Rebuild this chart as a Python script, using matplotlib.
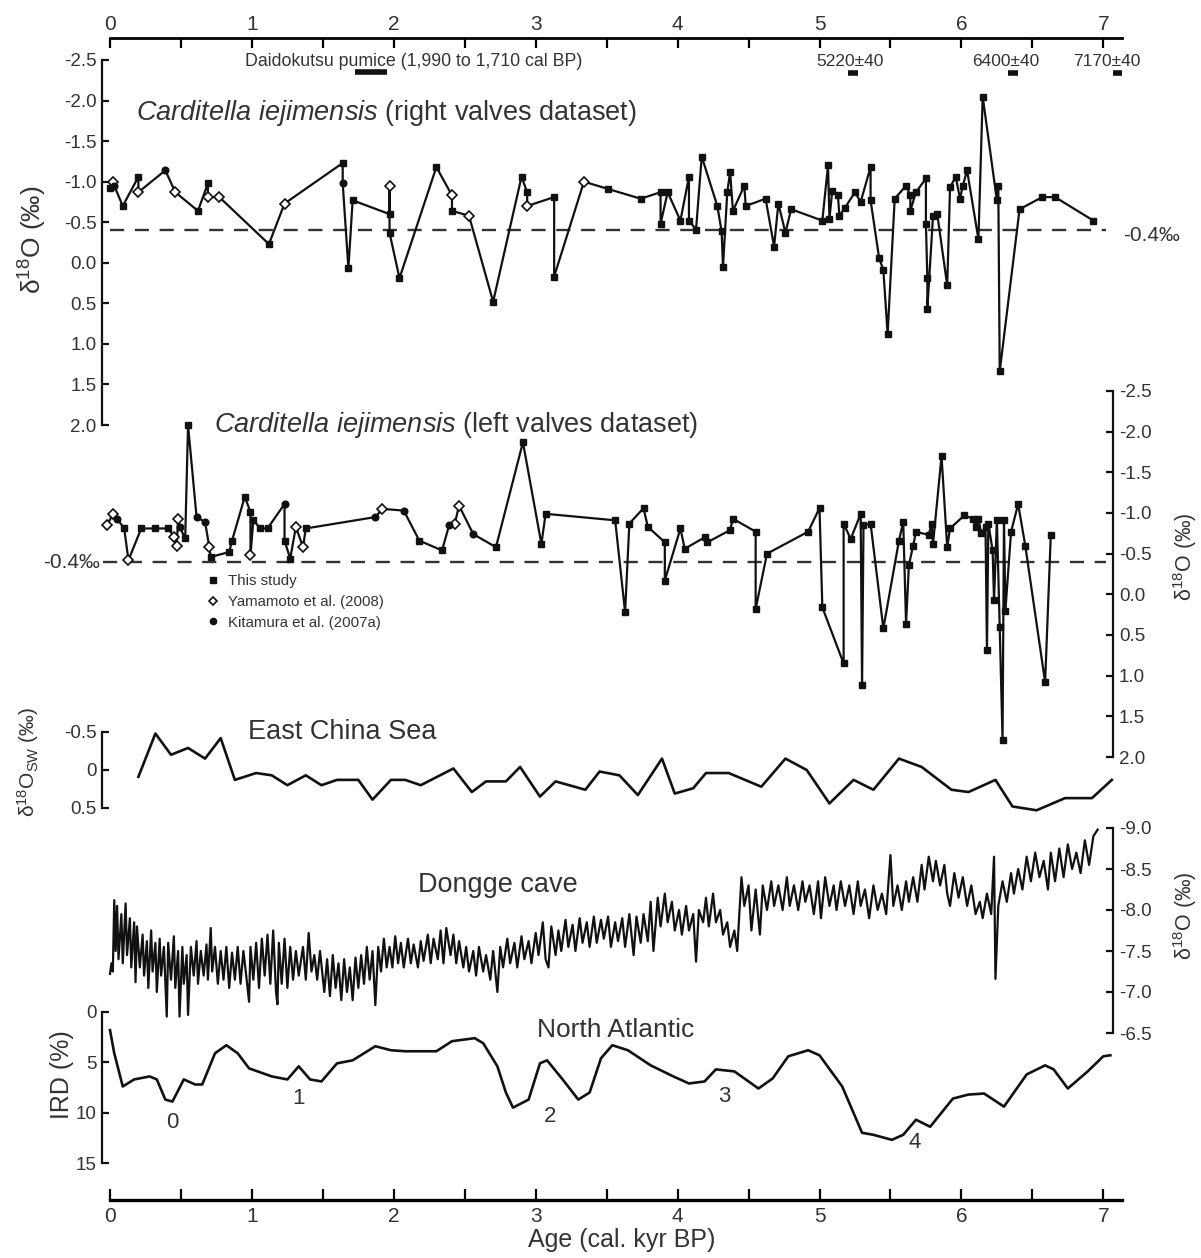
import matplotlib
matplotlib.use("Agg")
import matplotlib.pyplot as plt
from matplotlib.lines import Line2D
from matplotlib import transforms

plt.rcParams['font.family'] = ['Liberation Sans', 'DejaVu Sans']
plt.rcParams['axes.unicode_minus'] = False
plt.rcParams['mathtext.fontset'] = 'custom'
plt.rcParams['mathtext.rm'] = 'Liberation Sans'
plt.rcParams['mathtext.it'] = 'Liberation Sans:italic'
plt.rcParams['mathtext.default'] = 'regular'

# --- data ---
# right valves: age (cal kyr BP), d18O (permil), source (T=this study, Y=Yamamoto, K=Kitamura)
rv_age = [0.00, 0.02, 0.03, 0.09, 0.20, 0.20, 0.39, 0.46, 0.62, 0.69, 0.69, 0.77, 1.12, 1.23,
          1.64, 1.64, 1.68, 1.71, 1.97, 1.97, 1.97, 2.04, 2.30, 2.41, 2.41, 2.53, 2.70, 2.90,
          2.94, 2.94, 3.13, 3.13, 3.34, 3.51, 3.74, 3.88, 3.88, 3.93, 4.02, 4.08, 4.08, 4.13,
          4.17, 4.28, 4.31, 4.32, 4.35, 4.37, 4.39, 4.47, 4.48, 4.62, 4.68, 4.71, 4.76, 4.80,
          5.02, 5.06, 5.07, 5.09, 5.13, 5.14, 5.18, 5.25, 5.29, 5.36, 5.36, 5.42, 5.45, 5.48,
          5.53, 5.61, 5.64, 5.64, 5.68, 5.75, 5.75, 5.76, 5.76, 5.80, 5.83, 5.90, 5.92, 5.96,
          5.99, 6.01, 6.04, 6.12, 6.15, 6.25, 6.26, 6.27, 6.41, 6.57, 6.66, 6.93]
rv_d18o = [-0.92, -1.00, -0.95, -0.70, -1.06, -0.87, -1.14, -0.87, -0.64, -0.98, -0.81, -0.81, -0.23, -0.73,
           -1.23, -0.98, 0.07, -0.77, -0.60, -0.95, -0.37, 0.19, -1.18, -0.83, -0.64, -0.58, 0.48, -1.06,
           -0.87, -0.70, -0.81, 0.17, -1.00, -0.91, -0.79, -0.87, -0.48, -0.87, -0.52, -1.06, -0.52, -0.41,
           -1.31, -0.70, -0.39, 0.05, -0.87, -1.12, -0.64, -0.95, -0.70, -0.79, -0.20, -0.73, -0.37, -0.66,
           -0.52, -1.20, -0.54, -0.89, -0.83, -0.58, -0.68, -0.87, -0.75, -1.18, -0.77, -0.06, 0.09, 0.88,
           -0.79, -0.95, -0.83, -0.64, -0.87, -1.04, -0.48, 0.19, 0.57, -0.58, -0.60, 0.28, -0.93, -1.06,
           -0.79, -0.95, -1.14, -0.29, -2.05, -0.77, -0.95, 1.34, -0.66, -0.81, -0.81, -0.52]
rv_src = list("TYKTTYKYTTYYTYTKTTTYTTTYTYTTTYTTY") + ["T"] * 63

# left valves
lv_age = [-0.02, 0.02, 0.05, 0.10, 0.13, 0.22, 0.32, 0.41, 0.45, 0.47, 0.48, 0.49, 0.53, 0.55,
          0.61, 0.67, 0.70, 0.71, 0.84, 0.86, 0.95, 0.99, 0.99, 1.01, 1.06, 1.11, 1.23, 1.23,
          1.27, 1.31, 1.36, 1.38, 1.87, 1.92, 2.07, 2.18, 2.34, 2.39, 2.43, 2.46, 2.56, 2.72,
          2.91, 3.04, 3.07, 3.56, 3.63, 3.66, 3.76, 3.79, 3.91, 3.91, 4.02, 4.05, 4.19, 4.21,
          4.37, 4.39, 4.55, 4.55, 4.63, 4.92, 5.00, 5.02, 5.17, 5.17, 5.22, 5.29, 5.30, 5.31,
          5.36, 5.45, 5.56, 5.59, 5.61, 5.63, 5.66, 5.68, 5.77, 5.79, 5.80, 5.86, 5.90, 5.92,
          6.02, 6.08, 6.10, 6.12, 6.14, 6.17, 6.18, 6.19, 6.22, 6.23, 6.25, 6.27, 6.29, 6.30,
          6.31, 6.35, 6.40, 6.45, 6.59, 6.63]
lv_d18o = [-0.85, -0.99, -0.93, -0.81, -0.42, -0.81, -0.81, -0.81, -0.71, -0.60, -0.93, -0.83, -0.69, -2.08,
           -0.95, -0.89, -0.58, -0.46, -0.52, -0.66, -1.20, -1.01, -0.48, -0.91, -0.81, -0.81, -1.11, -0.66,
           -0.44, -0.83, -0.58, -0.81, -0.95, -1.05, -1.03, -0.66, -0.54, -0.85, -0.87, -1.09, -0.74, -0.58,
           -1.87, -0.62, -0.99, -0.91, 0.22, -0.87, -1.06, -0.83, -0.64, -0.17, -0.81, -0.56, -0.70, -0.64,
           -0.79, -0.93, -0.77, 0.18, -0.50, -0.77, -1.06, 0.16, 0.85, -0.87, -0.68, -0.99, 1.12, -0.85,
           -0.87, 0.42, -0.66, -0.89, 0.36, -0.36, -0.60, -0.77, -0.73, -0.87, -0.62, -1.70, -0.58, -0.81,
           -0.97, -0.93, -0.83, -0.93, -0.75, -0.83, 0.69, -0.87, -0.54, 0.07, -0.91, 0.40, 1.79, -0.91,
           0.20, -0.77, -1.11, -0.60, 1.08, -0.73]
lv_src = list("YYKTYTTTYYYKTTKKYTTTTTYTTTKTTYYTKYKTTKYYKT") + ["T"] * 62

# East China Sea d18Osw
ecs_age = [0.20, 0.32, 0.43, 0.55, 0.67, 0.78, 0.88, 1.03, 1.14, 1.25, 1.38, 1.49, 1.60, 1.75,
           1.85, 1.98, 2.08, 2.19, 2.42, 2.55, 2.65, 2.79, 2.89, 3.03, 3.14, 3.35, 3.45, 3.59,
           3.72, 3.89, 3.98, 4.11, 4.20, 4.36, 4.59, 4.76, 4.91, 5.07, 5.24, 5.38, 5.56, 5.72,
           5.93, 6.05, 6.24, 6.36, 6.53, 6.73, 6.92, 7.06]
ecs_d18osw = [0.09, -0.48, -0.20, -0.29, -0.15, -0.42, 0.13, 0.04, 0.07, 0.20, 0.07, 0.20, 0.13, 0.13,
              0.39, 0.13, 0.13, 0.20, -0.02, 0.29, 0.15, 0.15, -0.04, 0.35, 0.15, 0.26, 0.02, 0.07,
              0.33, -0.15, 0.31, 0.24, 0.04, 0.04, 0.22, -0.15, 0.00, 0.44, 0.13, 0.26, -0.15, -0.04,
              0.26, 0.29, 0.13, 0.48, 0.53, 0.37, 0.37, 0.13]

# Dongge cave speleothem d18O
dg_age = [0.00, 0.01, 0.02, 0.03, 0.04, 0.05, 0.06, 0.08, 0.09, 0.11, 0.12, 0.14, 0.15, 0.17, 0.18,
          0.19, 0.21, 0.23, 0.24, 0.26, 0.27, 0.29, 0.30, 0.32, 0.33, 0.35, 0.36, 0.38, 0.40, 0.41,
          0.43, 0.45, 0.46, 0.48, 0.49, 0.51, 0.52, 0.54, 0.55, 0.57, 0.59, 0.61, 0.62, 0.64, 0.66,
          0.68, 0.69, 0.71, 0.72, 0.74, 0.76, 0.78, 0.80, 0.82, 0.84, 0.86, 0.88, 0.90, 0.92, 0.94,
          0.96, 0.98, 0.99, 1.01, 1.03, 1.05, 1.07, 1.09, 1.11, 1.13, 1.15, 1.17, 1.18, 1.19, 1.21,
          1.23, 1.25, 1.27, 1.29, 1.31, 1.33, 1.36, 1.38, 1.40, 1.42, 1.44, 1.46, 1.48, 1.51, 1.53,
          1.55, 1.57, 1.59, 1.61, 1.63, 1.65, 1.67, 1.69, 1.71, 1.73, 1.75, 1.77, 1.79, 1.81, 1.83,
          1.85, 1.87, 1.89, 1.91, 1.93, 1.95, 1.97, 1.99, 2.01, 2.03, 2.05, 2.07, 2.10, 2.12, 2.14,
          2.17, 2.19, 2.21, 2.24, 2.26, 2.28, 2.31, 2.33, 2.35, 2.37, 2.40, 2.42, 2.44, 2.46, 2.49,
          2.51, 2.53, 2.56, 2.58, 2.60, 2.63, 2.65, 2.68, 2.70, 2.73, 2.75, 2.77, 2.80, 2.82, 2.85,
          2.87, 2.90, 2.92, 2.95, 2.97, 3.00, 3.02, 3.05, 3.07, 3.09, 3.11, 3.14, 3.16, 3.18, 3.21,
          3.23, 3.26, 3.28, 3.31, 3.33, 3.36, 3.38, 3.41, 3.43, 3.46, 3.48, 3.51, 3.53, 3.56, 3.58,
          3.61, 3.63, 3.66, 3.69, 3.71, 3.74, 3.76, 3.79, 3.81, 3.83, 3.86, 3.88, 3.91, 3.93, 3.96,
          3.98, 4.01, 4.03, 4.06, 4.08, 4.11, 4.13, 4.15, 4.18, 4.20, 4.22, 4.25, 4.27, 4.30, 4.32,
          4.35, 4.37, 4.40, 4.42, 4.45, 4.47, 4.50, 4.52, 4.55, 4.58, 4.60, 4.63, 4.66, 4.68, 4.71,
          4.74, 4.77, 4.79, 4.82, 4.85, 4.88, 4.90, 4.93, 4.96, 4.99, 5.01, 5.04, 5.07, 5.10, 5.12,
          5.15, 5.18, 5.21, 5.24, 5.27, 5.29, 5.32, 5.35, 5.38, 5.41, 5.44, 5.47, 5.50, 5.52, 5.55,
          5.58, 5.61, 5.63, 5.66, 5.69, 5.72, 5.74, 5.77, 5.80, 5.82, 5.85, 5.88, 5.90, 5.92, 5.95,
          5.98, 6.01, 6.04, 6.07, 6.10, 6.13, 6.15, 6.18, 6.21, 6.23, 6.24, 6.26, 6.29, 6.32, 6.35,
          6.37, 6.40, 6.43, 6.46, 6.49, 6.52, 6.55, 6.58, 6.61, 6.63, 6.66, 6.69, 6.72, 6.75, 6.78,
          6.81, 6.84, 6.87, 6.90, 6.93, 6.96]
dg_d18o = [-7.22, -7.35, -7.25, -8.12, -7.50, -8.05, -7.40, -7.95, -7.35, -8.08, -7.45, -7.90, -7.30, -7.85, -7.12,
           -7.80, -7.30, -7.70, -7.20, -7.62, -7.05, -7.75, -7.25, -7.60, -7.00, -7.65, -7.20, -7.55, -6.70, -7.60,
           -7.15, -7.68, -7.05, -7.50, -6.70, -7.55, -7.10, -7.45, -6.72, -7.55, -7.20, -7.62, -7.10, -7.50, -7.20,
           -7.58, -7.15, -7.78, -7.25, -7.55, -7.10, -7.50, -7.15, -7.55, -7.05, -7.48, -7.15, -7.55, -7.10, -7.50,
           -7.20, -6.88, -7.55, -7.15, -7.60, -7.05, -7.65, -7.20, -7.70, -7.10, -7.75, -7.00, -6.85, -7.60, -7.10,
           -7.65, -7.05, -7.55, -7.15, -7.50, -7.20, -7.55, -7.15, -7.72, -7.25, -7.45, -7.15, -7.50, -7.00, -7.40,
           -6.95, -7.45, -7.05, -7.35, -6.90, -7.40, -7.00, -7.30, -6.90, -7.42, -7.05, -7.45, -7.10, -7.55, -7.15,
           -7.50, -6.84, -7.55, -7.25, -7.65, -7.30, -7.55, -7.30, -7.68, -7.35, -7.60, -7.30, -7.65, -7.35, -7.58,
           -7.30, -7.62, -7.38, -7.70, -7.35, -7.65, -7.40, -7.75, -7.35, -7.78, -7.45, -7.70, -7.35, -7.62, -7.30,
           -7.55, -7.25, -7.50, -7.20, -7.55, -7.25, -7.45, -7.15, -7.50, -7.00, -7.55, -7.30, -7.65, -7.35, -7.60,
           -7.30, -7.68, -7.40, -7.62, -7.35, -7.72, -7.45, -7.85, -7.40, -7.30, -7.80, -7.45, -7.75, -7.50, -7.88,
           -7.55, -7.82, -7.50, -7.90, -7.60, -7.85, -7.55, -7.92, -7.60, -7.88, -7.65, -7.92, -7.55, -7.85, -7.62,
           -7.90, -7.55, -7.95, -7.45, -7.92, -7.60, -7.95, -7.62, -8.10, -7.50, -8.15, -7.80, -8.20, -7.85, -8.10,
           -7.75, -8.00, -7.70, -8.05, -7.75, -7.95, -7.37, -8.00, -7.85, -8.15, -7.80, -8.20, -7.85, -8.00, -7.70,
           -7.85, -7.55, -7.75, -7.50, -8.40, -8.05, -8.30, -7.75, -8.25, -7.70, -8.30, -8.00, -8.35, -8.05, -8.30,
           -8.00, -8.40, -8.05, -8.30, -8.00, -8.35, -8.10, -8.30, -7.95, -8.35, -7.90, -8.40, -8.05, -8.30, -8.00,
           -8.35, -8.05, -8.30, -7.95, -8.35, -8.05, -8.25, -7.90, -8.30, -8.00, -8.20, -7.95, -8.67, -8.05, -8.30,
           -8.00, -8.35, -8.10, -8.40, -8.10, -8.55, -8.25, -8.65, -8.35, -8.60, -8.30, -8.55, -8.20, -8.05, -8.45,
           -8.15, -8.40, -8.05, -8.30, -7.95, -8.10, -7.90, -8.20, -7.95, -8.65, -7.16, -8.05, -8.35, -8.10, -8.45,
           -8.20, -8.50, -8.25, -8.65, -8.35, -8.70, -8.40, -8.60, -8.25, -8.70, -8.35, -8.75, -8.40, -8.80, -8.50,
           -8.70, -8.45, -8.85, -8.55, -8.90, -8.98]

# North Atlantic ice-rafted debris
ird_age = [0.00, 0.03, 0.09, 0.17, 0.28, 0.33, 0.39, 0.44, 0.52, 0.60, 0.65, 0.74, 0.82, 0.90,
           0.98, 1.14, 1.25, 1.33, 1.41, 1.49, 1.60, 1.71, 1.87, 1.98, 2.08, 2.30, 2.41, 2.57,
           2.63, 2.73, 2.79, 2.84, 2.95, 3.03, 3.08, 3.19, 3.30, 3.38, 3.46, 3.54, 3.65, 3.81,
           3.97, 4.08, 4.19, 4.27, 4.40, 4.57, 4.67, 4.78, 4.92, 5.00, 5.16, 5.30, 5.38, 5.51,
           5.59, 5.68, 5.78, 5.94, 6.05, 6.16, 6.30, 6.46, 6.59, 6.65, 6.75, 6.89, 7.00, 7.05]
ird_pct = [1.8, 4.1, 7.4, 6.7, 6.4, 6.7, 8.7, 8.9, 6.7, 7.2, 7.2, 4.1, 3.3, 4.1,
           5.6, 6.4, 6.7, 5.4, 6.7, 6.9, 5.1, 4.8, 3.4, 3.8, 3.9, 3.9, 2.9, 2.6,
           3.1, 5.4, 8.0, 9.5, 8.7, 5.1, 4.8, 6.7, 8.7, 8.0, 4.6, 3.3, 3.8, 5.3,
           6.4, 7.1, 6.9, 5.7, 5.9, 7.6, 6.6, 4.4, 3.8, 4.3, 7.4, 12.0, 12.2, 12.7,
           12.2, 10.7, 11.4, 8.6, 8.2, 8.1, 9.4, 6.2, 5.3, 5.7, 7.6, 5.9, 4.4, 4.3]
bond_events = ["0", "1", "2", "3", "4"]

W, H = 1201, 1258
fig = plt.figure(figsize=(W / 100, H / 100), dpi=100)

X0, KYR = 110, 141.9      # pixel of age 0 and pixels per kyr
L, R = 102, 1125
XLIM = ((L - X0) / KYR, (R - X0) / KYR)
RSPINE = 7.07
INK = '#111111'
GREY = '#333333'


def add_ax(top, bottom):
    ax = fig.add_axes([L / W, 1 - bottom / H, (R - L) / W, (bottom - top) / H])
    ax.set_xlim(*XLIM)
    ax.patch.set_visible(False)
    for s in ax.spines.values():
        s.set_visible(False)
    ax.tick_params(axis='x', which='both', bottom=False, top=False, labelbottom=False, labeltop=False)
    ax.tick_params(axis='y', which='both', left=False, right=False, labelleft=False, labelright=False)
    return ax


def y_axis(ax, ticks, labels, side='left', size=13.5):
    sp = ax.spines[side]
    sp.set_visible(True)
    sp.set_linewidth(1.6)
    sp.set_color(INK)
    if side == 'right':
        sp.set_position(('data', RSPINE))
        ax.yaxis.set_ticks_position('right')
    ax.set_yticks(ticks)
    ax.set_yticklabels(labels)
    kw = {side: True, 'label' + side: True}
    ax.tick_params(axis='y', direction='in', length=5, width=1.6, color=INK,
                   labelsize=size, pad=4, labelcolor=GREY, **kw)


def txt(x, y, s, **kw):
    kw.setdefault('va', 'center')
    kw.setdefault('color', GREY)
    fig.text(x / W, 1 - y / H, s, **kw)


def shells(ax, age, val, src):
    ax.plot(age, val, color=INK, lw=1.6, zorder=2, clip_on=False)
    styles = {'T': dict(marker='s', ms=4.8, mfc=INK, mec=INK),
              'Y': dict(marker='D', ms=4.8, mfc='white', mec=INK, mew=1.2),
              'K': dict(marker='o', ms=4.8, mfc=INK, mec=INK)}
    for code, st in styles.items():
        xs = [a for a, c in zip(age, src) if c == code]
        ys = [v for v, c in zip(val, src) if c == code]
        ax.plot(xs, ys, ls='none', zorder=3, clip_on=False, **st)


# top age scale
axt = add_ax(38, 60)
axt.spines['top'].set_visible(True)
axt.spines['top'].set_linewidth(2.0)
axt.spines['top'].set_bounds(0, 7.13)
axt.set_xticks(range(8))
axt.set_xticks([0.5 + i for i in range(7)], minor=True)
axt.tick_params(axis='x', which='both', top=True, labeltop=True, direction='in',
                length=7, width=1.6, labelsize=15, labelcolor=GREY, pad=3)
axt.tick_params(axis='x', which='minor', labeltop=False)
tr = transforms.blended_transform_factory(axt.transData, fig.transFigure)
for a0, a1, yy in [(1.73, 1.95, 72), (5.20, 5.27, 73), (6.33, 6.40, 73), (7.07, 7.13, 73)]:
    axt.plot([a0, a1], [1 - yy / H] * 2, color=INK, lw=4, transform=tr, clip_on=False,
             solid_capstyle='butt')
txt(245, 62, 'Daidokutsu pumice (1,990 to 1,710 cal BP)', size=12.8)
txt(816, 62, '5220±40', size=12.5)
txt(972, 62, '6400±40', size=12.5)
txt(1073, 62, '7170±40', size=12.5)

# right valves
ax1 = add_ax(60, 425)
ax1.set_ylim(2.0, -2.5)
ticks = [-2.5, -2.0, -1.5, -1.0, -0.5, 0.0, 0.5, 1.0, 1.5, 2.0]
y_axis(ax1, ticks, ['%.1f' % t for t in ticks])
ax1.plot([0, 7.02], [-0.4, -0.4], color=GREY, lw=1.7, ls=(0, (6, 4.5)))
shells(ax1, rv_age, rv_d18o, rv_src)
txt(136, 113, r'$\mathit{Carditella\ iejimensis}$ (right valves dataset)', size=19.5)
txt(1123, 236, '-0.4‰', size=15)
txt(33, 240, 'δ$^{18}$O (‰)', size=19, rotation=90, ha='center')

# left valves
ax2 = add_ax(391, 757)
ax2.set_ylim(2.0, -2.5)
y_axis(ax2, ticks, ['%.1f' % t for t in ticks], side='right')
ax2.plot([-0.05, 7.02], [-0.4, -0.4], color=GREY, lw=1.7, ls=(0, (6, 4.5)))
shells(ax2, lv_age, lv_d18o, lv_src)
txt(214, 425, r'$\mathit{Carditella\ iejimensis}$ (left valves dataset)', size=19.5)
txt(100, 563, '-0.4‰', size=15, ha='right')
txt(1185, 557, 'δ$^{18}$O (‰)', size=15.5, rotation=90, ha='center')
handles = [Line2D([], [], ls='none', marker='s', ms=4.5, mfc=INK, mec=INK),
           Line2D([], [], ls='none', marker='D', ms=4.5, mfc='white', mec=INK, mew=1.2),
           Line2D([], [], ls='none', marker='o', ms=4.5, mfc=INK, mec=INK)]
leg = ax2.legend(handles, ['This study', 'Yamamoto et al. (2008)', 'Kitamura et al. (2007a)'],
                 loc='upper left', bbox_to_anchor=(208 / W, 1 - 574 / H), bbox_transform=fig.transFigure,
                 frameon=False, fontsize=10.8, handlelength=0.6, handletextpad=0.7, labelspacing=0.45,
                 borderpad=0, borderaxespad=0)
for t in leg.get_texts():
    t.set_color(GREY)

# East China Sea
ax3 = add_ax(732, 808)
ax3.set_ylim(0.5, -0.5)
y_axis(ax3, [-0.5, 0, 0.5], ['-0.5', '0', '0.5'])
ax3.plot(ecs_age, ecs_d18osw, color=INK, lw=1.9, clip_on=False)
txt(342, 732, 'East China Sea', size=19.5, ha='center')
txt(28, 762, 'δ$^{18}$O$_{SW}$ (‰)', size=15, rotation=90, ha='center')

# Dongge cave
ax4 = add_ax(828, 1033)
ax4.set_ylim(-6.5, -9.0)
dticks = [-9.0, -8.5, -8.0, -7.5, -7.0, -6.5]
y_axis(ax4, dticks, ['%.1f' % t for t in dticks], side='right')
ax4.plot(dg_age, dg_d18o, color=INK, lw=1.6, clip_on=False)
txt(498, 885, 'Dongge cave', size=19.5, ha='center')
txt(1185, 916, 'δ$^{18}$O (‰)', size=15.5, rotation=90, ha='center')

# North Atlantic IRD
ax5 = add_ax(1012, 1163)
ax5.set_ylim(15, 0)
y_axis(ax5, [0, 5, 10, 15], ['0', '5', '10', '15'])
ax5.plot(ird_age, ird_pct, color=INK, lw=1.9, clip_on=False)
txt(616, 1030, 'North Atlantic', size=19, ha='center')
txt(62, 1075, 'IRD (%)', size=18, rotation=90, ha='center')
for lab, (x, y) in zip(bond_events, [(172, 1122), (299, 1098), (550, 1117), (724, 1097), (915, 1143)]):
    txt(x, y, lab, size=16, ha='center')

# bottom age axis
axb = add_ax(1180, 1200)
axb.spines['bottom'].set_visible(True)
axb.spines['bottom'].set_linewidth(2.4)
axb.spines['bottom'].set_bounds(0, 7.13)
axb.set_xticks(range(8))
axb.set_xticks([0.5 + i for i in range(7)], minor=True)
axb.tick_params(axis='x', which='both', bottom=True, labelbottom=True, direction='in',
                length=8, width=1.6, labelsize=15, labelcolor=GREY, pad=5)
axb.tick_params(axis='x', which='minor', labelbottom=False)
txt(622, 1240, 'Age (cal. kyr BP)', size=18, ha='center')

fig.savefig('out.png', dpi=100, facecolor='white')
